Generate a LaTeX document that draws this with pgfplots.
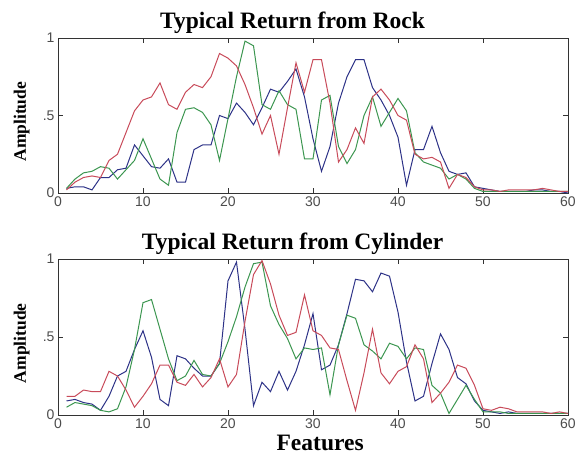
\documentclass[border=0pt]{standalone}
\usepackage{fontspec}
\setmainfont{Liberation Serif}
\setsansfont{Liberation Sans}
\usepackage{pgfplots}
\pgfplotsset{compat=1.18}
\usepackage{pgfplotstable}

\definecolor{cr}{RGB}{200,75,90}
\definecolor{cg}{RGB}{60,150,80}
\definecolor{cb}{RGB}{45,50,135}

\pgfplotstableread{
i r g b
1 0.02 0.03 0.03
2 0.07 0.09 0.04
3 0.10 0.13 0.04
4 0.11 0.14 0.02
5 0.10 0.17 0.10
6 0.21 0.16 0.10
7 0.25 0.09 0.15
8 0.39 0.15 0.16
9 0.53 0.21 0.31
10 0.60 0.35 0.24
11 0.62 0.22 0.17
12 0.71 0.09 0.16
13 0.57 0.05 0.22
14 0.54 0.39 0.07
15 0.65 0.54 0.07
16 0.70 0.55 0.28
17 0.68 0.52 0.31
18 0.75 0.44 0.31
19 0.90 0.21 0.50
20 0.87 0.48 0.48
21 0.82 0.75 0.58
22 0.70 0.98 0.52
23 0.55 0.95 0.44
24 0.38 0.57 0.55
25 0.50 0.54 0.67
26 0.25 0.66 0.65
27 0.55 0.57 0.72
28 0.84 0.54 0.80
29 0.65 0.22 0.62
30 0.86 0.22 0.35
31 0.86 0.60 0.14
32 0.58 0.63 0.30
33 0.20 0.30 0.58
34 0.28 0.19 0.75
35 0.42 0.28 0.86
36 0.32 0.50 0.86
37 0.62 0.62 0.68
38 0.67 0.43 0.60
39 0.60 0.52 0.50
40 0.50 0.61 0.36
41 0.47 0.53 0.05
42 0.25 0.26 0.28
43 0.22 0.20 0.28
44 0.23 0.18 0.43
45 0.20 0.16 0.26
46 0.03 0.09 0.14
47 0.12 0.12 0.12
48 0.10 0.09 0.13
49 0.04 0.03 0.04
50 0.02 0.01 0.03
51 0.02 0.01 0.02
52 0.01 0.01 0.01
53 0.02 0.01 0.01
54 0.02 0.01 0.01
55 0.02 0.01 0.01
56 0.02 0.01 0.02
57 0.03 0.01 0.02
58 0.02 0.01 0.01
59 0.01 0.01 0.01
60 0.01 0.01 0.00
}\rock

\pgfplotstableread{
i r g b
1 0.12 0.05 0.09
2 0.12 0.08 0.10
3 0.16 0.07 0.08
4 0.15 0.06 0.07
5 0.15 0.03 0.03
6 0.28 0.02 0.12
7 0.25 0.04 0.25
8 0.16 0.18 0.28
9 0.05 0.42 0.42
10 0.12 0.72 0.54
11 0.20 0.74 0.37
12 0.32 0.55 0.10
13 0.32 0.36 0.06
14 0.21 0.22 0.38
15 0.19 0.25 0.36
16 0.26 0.35 0.30
17 0.18 0.26 0.25
18 0.24 0.25 0.25
19 0.36 0.33 0.33
20 0.18 0.47 0.86
21 0.26 0.63 0.98
22 0.60 0.82 0.55
23 0.90 0.97 0.06
24 0.99 0.98 0.21
25 0.84 0.70 0.15
26 0.64 0.58 0.28
27 0.51 0.49 0.16
28 0.53 0.36 0.28
29 0.77 0.43 0.45
30 0.54 0.42 0.65
31 0.51 0.43 0.29
32 0.43 0.13 0.32
33 0.42 0.45 0.45
34 0.22 0.64 0.65
35 0.03 0.62 0.87
36 0.27 0.45 0.86
37 0.55 0.41 0.79
38 0.27 0.36 0.91
39 0.20 0.46 0.89
40 0.28 0.44 0.66
41 0.31 0.36 0.34
42 0.45 0.43 0.09
43 0.36 0.42 0.12
44 0.08 0.19 0.33
45 0.14 0.14 0.52
46 0.21 0.01 0.42
47 0.32 0.10 0.24
48 0.30 0.19 0.20
49 0.19 0.10 0.09
50 0.04 0.02 0.03
51 0.03 0.02 0.02
52 0.05 0.02 0.01
53 0.04 0.01 0.02
54 0.02 0.01 0.01
55 0.02 0.01 0.01
56 0.02 0.01 0.01
57 0.02 0.01 0.01
58 0.01 0.01 0.01
59 0.02 0.01 0.01
60 0.01 0.01 0.01
}\cyl

\pgfplotsset{
  sonar/.style={
    scale only axis, width=510pt,
    xmin=0, xmax=60, ymin=0, ymax=1,
    xtick={0,10,20,30,40,50,60}, xticklabels={0,10,20,30,40,50,60},
    ytick={0,0.5,1}, yticklabels={0,.5,1},
    tick align=inside, major tick length=5pt,
    axis line style={draw=black!80, line width=1pt},
    every tick/.style={draw=black!80, line width=0.8pt},
    ticklabel style={font=\sffamily\fontsize{14}{14}\selectfont, text=black!70},
    title style={at={(0.46,1)}, anchor=base, yshift=4pt, font=\bfseries\fontsize{23.5}{24}\selectfont},
    ylabel=Amplitude,
    ylabel style={at={(axis description cs:-0.063,0.46)}, anchor=base, font=\bfseries\fontsize{17.5}{18}\selectfont},
    every axis plot/.append style={line width=1pt, mark=none},
  }
}

\begin{document}
\begin{tikzpicture}
\useasboundingbox (0,0) rectangle (581pt,-459pt);
\begin{axis}[sonar, height=155pt, at={(58pt,-38pt)}, anchor=north west,
  title={Typical Return from Rock}]
  \addplot[cb] table[x=i,y=b]{\rock};
  \addplot[cg] table[x=i,y=g]{\rock};
  \addplot[cr] table[x=i,y=r]{\rock};
\end{axis}
\begin{axis}[sonar, height=156pt, at={(58pt,-259pt)}, anchor=north west,
  title={Typical Return from Cylinder},
  xlabel=Features,
  xlabel style={at={(axis description cs:0.514,0)}, anchor=base, yshift=-35pt, font=\bfseries\fontsize{23.5}{24}\selectfont}]
  \addplot[cb] table[x=i,y=b]{\cyl};
  \addplot[cg] table[x=i,y=g]{\cyl};
  \addplot[cr] table[x=i,y=r]{\cyl};
\end{axis}
\end{tikzpicture}
\end{document}
